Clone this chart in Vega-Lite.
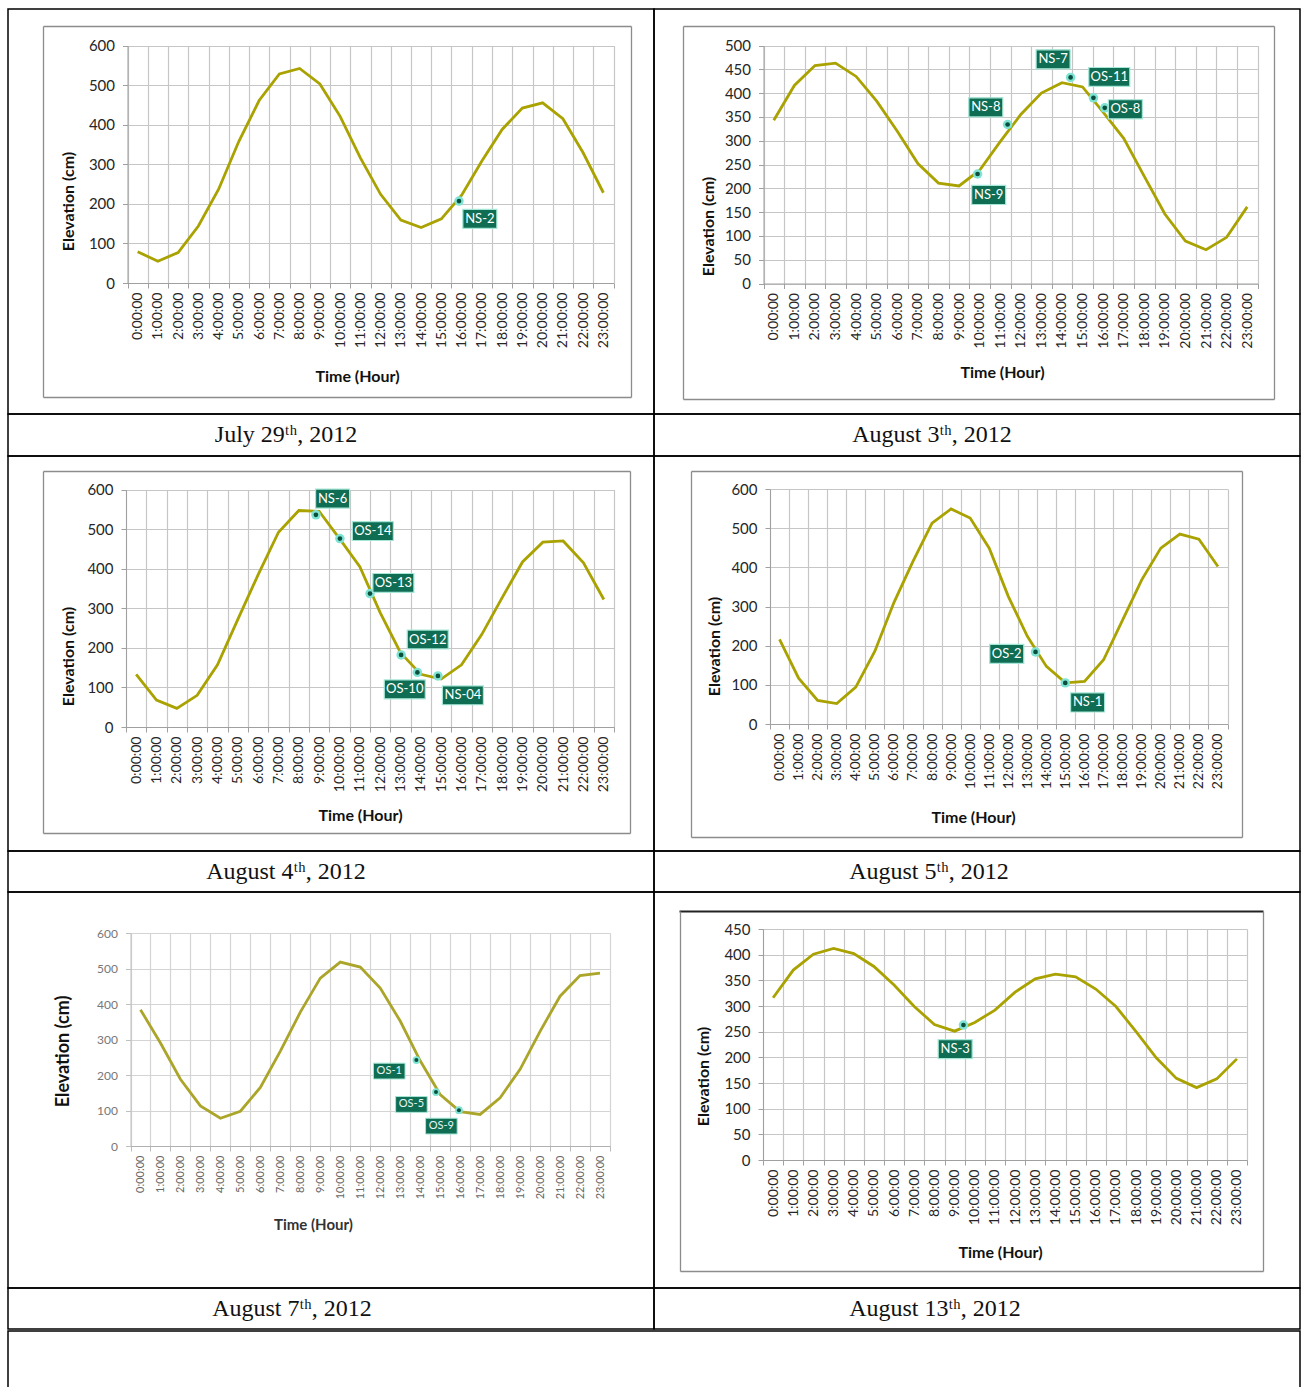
{
  "$schema": "https://vega.github.io/schema/vega-lite/v6.json",
  "padding": {"left": 7, "top": 8, "right": 0, "bottom": 0},
  "background": "white",
  "spacing": 0,
  "datasets": {
    "tide": [
      {"panel":"P1","hour":0,"elev":79},{"panel":"P1","hour":1,"elev":55},{"panel":"P1","hour":2,"elev":77},{"panel":"P1","hour":3,"elev":144},{"panel":"P1","hour":4,"elev":237},{"panel":"P1","hour":5,"elev":358},{"panel":"P1","hour":6,"elev":461},{"panel":"P1","hour":7,"elev":528},{"panel":"P1","hour":8,"elev":542},{"panel":"P1","hour":9,"elev":503},{"panel":"P1","hour":10,"elev":421},{"panel":"P1","hour":11,"elev":316},{"panel":"P1","hour":12,"elev":224},{"panel":"P1","hour":13,"elev":159},{"panel":"P1","hour":14,"elev":140},{"panel":"P1","hour":15,"elev":162},{"panel":"P1","hour":16,"elev":222},{"panel":"P1","hour":17,"elev":308},{"panel":"P1","hour":18,"elev":388},{"panel":"P1","hour":19,"elev":442},{"panel":"P1","hour":20,"elev":455},{"panel":"P1","hour":21,"elev":415},{"panel":"P1","hour":22,"elev":329},{"panel":"P1","hour":23,"elev":228},
      {"panel":"P2","hour":0,"elev":343},{"panel":"P2","hour":1,"elev":416},{"panel":"P2","hour":2,"elev":458},{"panel":"P2","hour":3,"elev":463},{"panel":"P2","hour":4,"elev":435},{"panel":"P2","hour":5,"elev":383},{"panel":"P2","hour":6,"elev":320},{"panel":"P2","hour":7,"elev":252},{"panel":"P2","hour":8,"elev":211},{"panel":"P2","hour":9,"elev":205},{"panel":"P2","hour":10,"elev":238},{"panel":"P2","hour":11,"elev":298},{"panel":"P2","hour":12,"elev":355},{"panel":"P2","hour":13,"elev":400},{"panel":"P2","hour":14,"elev":422},{"panel":"P2","hour":15,"elev":413},{"panel":"P2","hour":16,"elev":360},{"panel":"P2","hour":17,"elev":305},{"panel":"P2","hour":18,"elev":225},{"panel":"P2","hour":19,"elev":146},{"panel":"P2","hour":20,"elev":89},{"panel":"P2","hour":21,"elev":71},{"panel":"P2","hour":22,"elev":97},{"panel":"P2","hour":23,"elev":161},
      {"panel":"P3","hour":0,"elev":133},{"panel":"P3","hour":1,"elev":68},{"panel":"P3","hour":2,"elev":47},{"panel":"P3","hour":3,"elev":80},{"panel":"P3","hour":4,"elev":157},{"panel":"P3","hour":5,"elev":272},{"panel":"P3","hour":6,"elev":385},{"panel":"P3","hour":7,"elev":492},{"panel":"P3","hour":8,"elev":547},{"panel":"P3","hour":9,"elev":545},{"panel":"P3","hour":10,"elev":476},{"panel":"P3","hour":11,"elev":405},{"panel":"P3","hour":12,"elev":289},{"panel":"P3","hour":13,"elev":188},{"panel":"P3","hour":14,"elev":133},{"panel":"P3","hour":15,"elev":121},{"panel":"P3","hour":16,"elev":157},{"panel":"P3","hour":17,"elev":234},{"panel":"P3","hour":18,"elev":327},{"panel":"P3","hour":19,"elev":417},{"panel":"P3","hour":20,"elev":467},{"panel":"P3","hour":21,"elev":470},{"panel":"P3","hour":22,"elev":415},{"panel":"P3","hour":23,"elev":322},
      {"panel":"P4","hour":0,"elev":216},{"panel":"P4","hour":1,"elev":117},{"panel":"P4","hour":2,"elev":60},{"panel":"P4","hour":3,"elev":52},{"panel":"P4","hour":4,"elev":94},{"panel":"P4","hour":5,"elev":186},{"panel":"P4","hour":6,"elev":310},{"panel":"P4","hour":7,"elev":415},{"panel":"P4","hour":8,"elev":513},{"panel":"P4","hour":9,"elev":549},{"panel":"P4","hour":10,"elev":526},{"panel":"P4","hour":11,"elev":449},{"panel":"P4","hour":12,"elev":326},{"panel":"P4","hour":13,"elev":224},{"panel":"P4","hour":14,"elev":147},{"panel":"P4","hour":15,"elev":105},{"panel":"P4","hour":16,"elev":109},{"panel":"P4","hour":17,"elev":164},{"panel":"P4","hour":18,"elev":266},{"panel":"P4","hour":19,"elev":368},{"panel":"P4","hour":20,"elev":449},{"panel":"P4","hour":21,"elev":485},{"panel":"P4","hour":22,"elev":472},{"panel":"P4","hour":23,"elev":402},
      {"panel":"P5","hour":0,"elev":384},{"panel":"P5","hour":1,"elev":290},{"panel":"P5","hour":2,"elev":188},{"panel":"P5","hour":3,"elev":113},{"panel":"P5","hour":4,"elev":78},{"panel":"P5","hour":5,"elev":98},{"panel":"P5","hour":6,"elev":165},{"panel":"P5","hour":7,"elev":267},{"panel":"P5","hour":8,"elev":377},{"panel":"P5","hour":9,"elev":473},{"panel":"P5","hour":10,"elev":518},{"panel":"P5","hour":11,"elev":504},{"panel":"P5","hour":12,"elev":445},{"panel":"P5","hour":13,"elev":352},{"panel":"P5","hour":14,"elev":240},{"panel":"P5","hour":15,"elev":145},{"panel":"P5","hour":16,"elev":97},{"panel":"P5","hour":17,"elev":89},{"panel":"P5","hour":18,"elev":136},{"panel":"P5","hour":19,"elev":216},{"panel":"P5","hour":20,"elev":323},{"panel":"P5","hour":21,"elev":422},{"panel":"P5","hour":22,"elev":480},{"panel":"P5","hour":23,"elev":487},
      {"panel":"P6","hour":0,"elev":316},{"panel":"P6","hour":1,"elev":370},{"panel":"P6","hour":2,"elev":401},{"panel":"P6","hour":3,"elev":412},{"panel":"P6","hour":4,"elev":402},{"panel":"P6","hour":5,"elev":377},{"panel":"P6","hour":6,"elev":341},{"panel":"P6","hour":7,"elev":299},{"panel":"P6","hour":8,"elev":264},{"panel":"P6","hour":9,"elev":251},{"panel":"P6","hour":10,"elev":268},{"panel":"P6","hour":11,"elev":292},{"panel":"P6","hour":12,"elev":327},{"panel":"P6","hour":13,"elev":353},{"panel":"P6","hour":14,"elev":362},{"panel":"P6","hour":15,"elev":357},{"panel":"P6","hour":16,"elev":333},{"panel":"P6","hour":17,"elev":299},{"panel":"P6","hour":18,"elev":250},{"panel":"P6","hour":19,"elev":199},{"panel":"P6","hour":20,"elev":159},{"panel":"P6","hour":21,"elev":141},{"panel":"P6","hour":22,"elev":158},{"panel":"P6","hour":23,"elev":197}
    ],
    "marks": [
      {"panel":"P1","label":"NS-2","hour":15.87,"elev":207,"lhour":16.9,"lelev":162},
      {"panel":"P2","label":"NS-7","hour":14.42,"elev":433,"lhour":13.57,"lelev":471},
      {"panel":"P2","label":"OS-11","hour":15.53,"elev":390,"lhour":16.3,"lelev":434},
      {"panel":"P2","label":"OS-8","hour":16.08,"elev":369,"lhour":17.08,"lelev":366},
      {"panel":"P2","label":"NS-8","hour":11.36,"elev":334,"lhour":10.3,"lelev":370},
      {"panel":"P2","label":"NS-9","hour":9.9,"elev":230,"lhour":10.44,"lelev":186},
      {"panel":"P3","label":"NS-6","hour":8.84,"elev":536,"lhour":9.66,"lelev":577},
      {"panel":"P3","label":"OS-14","hour":10.02,"elev":476,"lhour":11.64,"lelev":495},
      {"panel":"P3","label":"OS-13","hour":11.5,"elev":337,"lhour":12.65,"lelev":364},
      {"panel":"P3","label":"OS-12","hour":13.03,"elev":182,"lhour":14.34,"lelev":221},
      {"panel":"P3","label":"OS-10","hour":13.83,"elev":138,"lhour":13.21,"lelev":95},
      {"panel":"P3","label":"NS-04","hour":14.84,"elev":129,"lhour":16.07,"lelev":80},
      {"panel":"P4","label":"OS-2","hour":13.43,"elev":184,"lhour":11.92,"lelev":179},
      {"panel":"P4","label":"NS-1","hour":14.99,"elev":105,"lhour":16.16,"lelev":55},
      {"panel":"P5","label":"OS-1","hour":13.81,"elev":242,"lhour":12.45,"lelev":211},
      {"panel":"P5","label":"OS-5","hour":14.79,"elev":152,"lhour":13.56,"lelev":117},
      {"panel":"P5","label":"OS-9","hour":15.94,"elev":101,"lhour":15.06,"lelev":56},
      {"panel":"P6","label":"NS-3","hour":9.44,"elev":263,"lhour":9.03,"lelev":216}
    ]
  },
  "vconcat": [
   {"columns": 2, "spacing": 0, "bounds": "flush",
    "concat": [
      {"width": 646, "height": 405, "view": {"stroke": "#000", "strokeWidth": 1.5},
       "resolve": {"scale": {"x": "independent", "y": "independent"}, "axis": {"x": "independent", "y": "independent"}},
       "layer": [
        {"data": {"name": "tide"}, "transform": [{"filter": "datum.panel === 'P1'"}],
         "mark": {"type": "point", "opacity": 0},
         "encoding": {
          "x": {"field": "hour", "type": "quantitative", "scale": {"domain": [0, 23], "range": [35, 623], "nice": false, "zero": false},
                "axis": {"orient": "top", "offset": -17, "title": null, "labels": false, "ticks": false, "grid": false, "domainColor": "#8c8c8c", "domainWidth": 1.3}},
          "y": {"field": "elev", "type": "quantitative", "scale": {"domain": [0, 600], "range": [388, 17], "nice": false, "zero": false},
                "axis": {"orient": "left", "offset": -35, "title": null, "labels": false, "ticks": false, "grid": false, "domainColor": "#8c8c8c", "domainWidth": 1.3}}}},
        {"data": {"name": "tide"}, "transform": [{"filter": "datum.panel === 'P1'"}],
         "mark": {"type": "point", "opacity": 0},
         "encoding": {
          "x": {"field": "hour", "type": "quantitative", "scale": {"domain": [0, 23], "range": [35, 623], "nice": false, "zero": false},
                "axis": {"orient": "bottom", "offset": -17, "title": null, "labels": false, "ticks": false, "grid": false, "domainColor": "#8c8c8c", "domainWidth": 1.3}},
          "y": {"field": "elev", "type": "quantitative", "scale": {"domain": [0, 600], "range": [388, 17], "nice": false, "zero": false},
                "axis": {"orient": "right", "offset": -23, "title": null, "labels": false, "ticks": false, "grid": false, "domainColor": "#8c8c8c", "domainWidth": 1.3}}}},
        {"data": {"name": "tide"}, "transform": [{"filter": "datum.panel === 'P1'"}],
         "mark": {"type": "point", "opacity": 0},
         "encoding": {
          "x": {"field": "hour", "type": "quantitative", "scale": {"domain": [-0.5, 23.5], "range": [119.5, 605.5], "nice": false, "zero": false},
                "axis": {"orient": "bottom", "offset": -131, "title": null, "values": [-0.5,0.5,1.5,2.5,3.5,4.5,5.5,6.5,7.5,8.5,9.5,10.5,11.5,12.5,13.5,14.5,15.5,16.5,17.5,18.5,19.5,20.5,21.5,22.5,23.5], "labels": false, "ticks": true, "tickSize": 5, "grid": false, "domain": false}},
          "y": {"field": "elev", "type": "quantitative", "scale": {"domain": [0, 600], "range": [274, 36.5], "nice": false, "zero": false}, "axis": null}}},
        {"data": {"name": "tide"}, "transform": [{"filter": "datum.panel === 'P1'"}],
         "mark": {"type": "line", "color": "#a9a200", "strokeWidth": 2.8},
         "encoding": {
          "x": {"field": "hour", "type": "quantitative", "scale": {"domain": [-0.5, 23.5], "range": [119.5, 605.5], "nice": false, "zero": false},
                "axis": {"orient": "top", "title": null, "values": [-0.5,0.5,1.5,2.5,3.5,4.5,5.5,6.5,7.5,8.5,9.5,10.5,11.5,12.5,13.5,14.5,15.5,16.5,17.5,18.5,19.5,20.5,21.5,22.5,23.5], "grid": true, "labels": false, "ticks": false, "domain": false}},
          "y": {"field": "elev", "type": "quantitative", "scale": {"domain": [0, 600], "range": [274, 36.5], "nice": false, "zero": false},
                "axis": {"orient": "left", "title": "Elevation (cm)", "values": [0,100,200,300,400,500,600], "grid": true, "offset": -119.5, "titleX": -59.5, "titleY": 192, "titleAngle": -90, "titleAlign": "center", "titleBaseline": "middle"}}
         }},
        {"data": {"name": "marks"}, "transform": [{"filter": "datum.panel === 'P1'"}],
         "encoding": {
          "x": {"field": "hour", "type": "quantitative", "scale": {"domain": [-0.5, 23.5], "range": [119.5, 605.5], "nice": false, "zero": false},
                "axis": {"orient": "bottom", "title": "Time (Hour)", "values": [0,1,2,3,4,5,6,7,8,9,10,11,12,13,14,15,16,17,18,19,20,21,22,23], "labelExpr": "datum.value + ':00:00'", "grid": false, "ticks": false, "tickSize": 0, "labelPadding": 9,
                         "offset": -131, "titleX": 349, "titleY": 93, "titleAngle": 0, "titleAlign": "center", "titleBaseline": "middle"}},
          "y": {"field": "elev", "type": "quantitative", "scale": {"domain": [0, 600], "range": [274, 36.5], "nice": false, "zero": false}, "axis": null}},
         "layer": [
          {"mark": {"type": "point", "filled": true, "color": "#7ee3d3", "size": 90, "opacity": 1}},
          {"mark": {"type": "point", "filled": true, "color": "#0b4f3c", "size": 22, "opacity": 1}},
          {"mark": {"type": "point", "filled": true, "fill": "#0f6d54", "stroke": "#a6e6d6", "strokeWidth": 1.2, "opacity": 1},
           "encoding": {"x": {"field": "lhour", "type": "quantitative"}, "y": {"field": "lelev", "type": "quantitative"},
            "shape": {"condition": {"test": "length(datum.label) > 4", "value": "M-1,-0.46H1V0.46H-1Z"}, "value": "M-1,-0.56H1V0.56H-1Z"},
            "size": {"condition": {"test": "length(datum.label) > 4", "value": 1681}, "value": 1156}}},
          {"mark": {"type": "text", "color": "white", "font": "Lato", "fontSize": 13},
           "encoding": {"x": {"field": "lhour", "type": "quantitative"}, "y": {"field": "lelev", "type": "quantitative"}, "text": {"field": "label"}}}
         ]}
       ]},
      {"width": 646, "height": 405, "view": {"stroke": "#000", "strokeWidth": 1.5},
       "resolve": {"scale": {"x": "independent", "y": "independent"}, "axis": {"x": "independent", "y": "independent"}},
       "layer": [
        {"data": {"name": "tide"}, "transform": [{"filter": "datum.panel === 'P2'"}],
         "mark": {"type": "point", "opacity": 0},
         "encoding": {
          "x": {"field": "hour", "type": "quantitative", "scale": {"domain": [0, 23], "range": [29, 620], "nice": false, "zero": false},
                "axis": {"orient": "top", "offset": -17, "title": null, "labels": false, "ticks": false, "grid": false, "domainColor": "#8c8c8c", "domainWidth": 1.3}},
          "y": {"field": "elev", "type": "quantitative", "scale": {"domain": [0, 500], "range": [390, 17], "nice": false, "zero": false},
                "axis": {"orient": "left", "offset": -29, "title": null, "labels": false, "ticks": false, "grid": false, "domainColor": "#8c8c8c", "domainWidth": 1.3}}}},
        {"data": {"name": "tide"}, "transform": [{"filter": "datum.panel === 'P2'"}],
         "mark": {"type": "point", "opacity": 0},
         "encoding": {
          "x": {"field": "hour", "type": "quantitative", "scale": {"domain": [0, 23], "range": [29, 620], "nice": false, "zero": false},
                "axis": {"orient": "bottom", "offset": -15, "title": null, "labels": false, "ticks": false, "grid": false, "domainColor": "#8c8c8c", "domainWidth": 1.3}},
          "y": {"field": "elev", "type": "quantitative", "scale": {"domain": [0, 500], "range": [390, 17], "nice": false, "zero": false},
                "axis": {"orient": "right", "offset": -26, "title": null, "labels": false, "ticks": false, "grid": false, "domainColor": "#8c8c8c", "domainWidth": 1.3}}}},
        {"data": {"name": "tide"}, "transform": [{"filter": "datum.panel === 'P2'"}],
         "mark": {"type": "point", "opacity": 0},
         "encoding": {
          "x": {"field": "hour", "type": "quantitative", "scale": {"domain": [-0.5, 23.5], "range": [109.5, 603.5], "nice": false, "zero": false},
                "axis": {"orient": "bottom", "offset": -130.5, "title": null, "values": [-0.5,0.5,1.5,2.5,3.5,4.5,5.5,6.5,7.5,8.5,9.5,10.5,11.5,12.5,13.5,14.5,15.5,16.5,17.5,18.5,19.5,20.5,21.5,22.5,23.5], "labels": false, "ticks": true, "tickSize": 5, "grid": false, "domain": false}},
          "y": {"field": "elev", "type": "quantitative", "scale": {"domain": [0, 500], "range": [274.5, 36.5], "nice": false, "zero": false}, "axis": null}}},
        {"data": {"name": "tide"}, "transform": [{"filter": "datum.panel === 'P2'"}],
         "mark": {"type": "line", "color": "#a9a200", "strokeWidth": 2.8},
         "encoding": {
          "x": {"field": "hour", "type": "quantitative", "scale": {"domain": [-0.5, 23.5], "range": [109.5, 603.5], "nice": false, "zero": false},
                "axis": {"orient": "top", "title": null, "values": [-0.5,0.5,1.5,2.5,3.5,4.5,5.5,6.5,7.5,8.5,9.5,10.5,11.5,12.5,13.5,14.5,15.5,16.5,17.5,18.5,19.5,20.5,21.5,22.5,23.5], "grid": true, "labels": false, "ticks": false, "domain": false}},
          "y": {"field": "elev", "type": "quantitative", "scale": {"domain": [0, 500], "range": [274.5, 36.5], "nice": false, "zero": false},
                "axis": {"orient": "left", "title": "Elevation (cm)", "values": [0,50,100,150,200,250,300,350,400,450,500], "grid": true, "offset": -109.5, "titleX": -55.5, "titleY": 217, "titleAngle": -90, "titleAlign": "center", "titleBaseline": "middle"}}
         }},
        {"data": {"name": "marks"}, "transform": [{"filter": "datum.panel === 'P2'"}],
         "encoding": {
          "x": {"field": "hour", "type": "quantitative", "scale": {"domain": [-0.5, 23.5], "range": [109.5, 603.5], "nice": false, "zero": false},
                "axis": {"orient": "bottom", "title": "Time (Hour)", "values": [0,1,2,3,4,5,6,7,8,9,10,11,12,13,14,15,16,17,18,19,20,21,22,23], "labelExpr": "datum.value + ':00:00'", "grid": false, "ticks": false, "tickSize": 0, "labelPadding": 9,
                         "offset": -130.5, "titleX": 348, "titleY": 88.5, "titleAngle": 0, "titleAlign": "center", "titleBaseline": "middle"}},
          "y": {"field": "elev", "type": "quantitative", "scale": {"domain": [0, 500], "range": [274.5, 36.5], "nice": false, "zero": false}, "axis": null}},
         "layer": [
          {"mark": {"type": "point", "filled": true, "color": "#7ee3d3", "size": 90, "opacity": 1}},
          {"mark": {"type": "point", "filled": true, "color": "#0b4f3c", "size": 22, "opacity": 1}},
          {"mark": {"type": "point", "filled": true, "fill": "#0f6d54", "stroke": "#a6e6d6", "strokeWidth": 1.2, "opacity": 1},
           "encoding": {"x": {"field": "lhour", "type": "quantitative"}, "y": {"field": "lelev", "type": "quantitative"},
            "shape": {"condition": {"test": "length(datum.label) > 4", "value": "M-1,-0.46H1V0.46H-1Z"}, "value": "M-1,-0.56H1V0.56H-1Z"},
            "size": {"condition": {"test": "length(datum.label) > 4", "value": 1681}, "value": 1156}}},
          {"mark": {"type": "text", "color": "white", "font": "Lato", "fontSize": 13},
           "encoding": {"x": {"field": "lhour", "type": "quantitative"}, "y": {"field": "lelev", "type": "quantitative"}, "text": {"field": "label"}}}
         ]}
       ]},
      {"width": 646, "height": 42, "view": {"stroke": "#000", "strokeWidth": 1.5}, "data": {"values": [{"caption": "July 29ᵗʰ, 2012"}]},
       "mark": {"type": "text", "font": "Liberation Serif", "fontSize": 24, "color": "#111", "dx": -45}, "encoding": {"text": {"field": "caption"}}},
      {"width": 646, "height": 42, "view": {"stroke": "#000", "strokeWidth": 1.5}, "data": {"values": [{"caption": "August 3ᵗʰ, 2012"}]},
       "mark": {"type": "text", "font": "Liberation Serif", "fontSize": 24, "color": "#111", "dx": -45}, "encoding": {"text": {"field": "caption"}}},
      {"width": 646, "height": 395, "view": {"stroke": "#000", "strokeWidth": 1.5},
       "resolve": {"scale": {"x": "independent", "y": "independent"}, "axis": {"x": "independent", "y": "independent"}},
       "layer": [
        {"data": {"name": "tide"}, "transform": [{"filter": "datum.panel === 'P3'"}],
         "mark": {"type": "point", "opacity": 0},
         "encoding": {
          "x": {"field": "hour", "type": "quantitative", "scale": {"domain": [0, 23], "range": [35, 622], "nice": false, "zero": false},
                "axis": {"orient": "top", "offset": -15, "title": null, "labels": false, "ticks": false, "grid": false, "domainColor": "#8c8c8c", "domainWidth": 1.3}},
          "y": {"field": "elev", "type": "quantitative", "scale": {"domain": [0, 600], "range": [377, 15], "nice": false, "zero": false},
                "axis": {"orient": "left", "offset": -35, "title": null, "labels": false, "ticks": false, "grid": false, "domainColor": "#8c8c8c", "domainWidth": 1.3}}}},
        {"data": {"name": "tide"}, "transform": [{"filter": "datum.panel === 'P3'"}],
         "mark": {"type": "point", "opacity": 0},
         "encoding": {
          "x": {"field": "hour", "type": "quantitative", "scale": {"domain": [0, 23], "range": [35, 622], "nice": false, "zero": false},
                "axis": {"orient": "bottom", "offset": -18, "title": null, "labels": false, "ticks": false, "grid": false, "domainColor": "#8c8c8c", "domainWidth": 1.3}},
          "y": {"field": "elev", "type": "quantitative", "scale": {"domain": [0, 600], "range": [377, 15], "nice": false, "zero": false},
                "axis": {"orient": "right", "offset": -24, "title": null, "labels": false, "ticks": false, "grid": false, "domainColor": "#8c8c8c", "domainWidth": 1.3}}}},
        {"data": {"name": "tide"}, "transform": [{"filter": "datum.panel === 'P3'"}],
         "mark": {"type": "point", "opacity": 0},
         "encoding": {
          "x": {"field": "hour", "type": "quantitative", "scale": {"domain": [-0.5, 23.5], "range": [118, 606], "nice": false, "zero": false},
                "axis": {"orient": "bottom", "offset": -124, "title": null, "values": [-0.5,0.5,1.5,2.5,3.5,4.5,5.5,6.5,7.5,8.5,9.5,10.5,11.5,12.5,13.5,14.5,15.5,16.5,17.5,18.5,19.5,20.5,21.5,22.5,23.5], "labels": false, "ticks": true, "tickSize": 5, "grid": false, "domain": false}},
          "y": {"field": "elev", "type": "quantitative", "scale": {"domain": [0, 600], "range": [271, 33.5], "nice": false, "zero": false}, "axis": null}}},
        {"data": {"name": "tide"}, "transform": [{"filter": "datum.panel === 'P3'"}],
         "mark": {"type": "line", "color": "#a9a200", "strokeWidth": 2.8},
         "encoding": {
          "x": {"field": "hour", "type": "quantitative", "scale": {"domain": [-0.5, 23.5], "range": [118, 606], "nice": false, "zero": false},
                "axis": {"orient": "top", "title": null, "values": [-0.5,0.5,1.5,2.5,3.5,4.5,5.5,6.5,7.5,8.5,9.5,10.5,11.5,12.5,13.5,14.5,15.5,16.5,17.5,18.5,19.5,20.5,21.5,22.5,23.5], "grid": true, "labels": false, "ticks": false, "domain": false}},
          "y": {"field": "elev", "type": "quantitative", "scale": {"domain": [0, 600], "range": [271, 33.5], "nice": false, "zero": false},
                "axis": {"orient": "left", "title": "Elevation (cm)", "values": [0,100,200,300,400,500,600], "grid": true, "offset": -118, "titleX": -58, "titleY": 200, "titleAngle": -90, "titleAlign": "center", "titleBaseline": "middle"}}
         }},
        {"data": {"name": "marks"}, "transform": [{"filter": "datum.panel === 'P3'"}],
         "encoding": {
          "x": {"field": "hour", "type": "quantitative", "scale": {"domain": [-0.5, 23.5], "range": [118, 606], "nice": false, "zero": false},
                "axis": {"orient": "bottom", "title": "Time (Hour)", "values": [0,1,2,3,4,5,6,7,8,9,10,11,12,13,14,15,16,17,18,19,20,21,22,23], "labelExpr": "datum.value + ':00:00'", "grid": false, "ticks": false, "tickSize": 0, "labelPadding": 9,
                         "offset": -124, "titleX": 352, "titleY": 88, "titleAngle": 0, "titleAlign": "center", "titleBaseline": "middle"}},
          "y": {"field": "elev", "type": "quantitative", "scale": {"domain": [0, 600], "range": [271, 33.5], "nice": false, "zero": false}, "axis": null}},
         "layer": [
          {"mark": {"type": "point", "filled": true, "color": "#7ee3d3", "size": 90, "opacity": 1}},
          {"mark": {"type": "point", "filled": true, "color": "#0b4f3c", "size": 22, "opacity": 1}},
          {"mark": {"type": "point", "filled": true, "fill": "#0f6d54", "stroke": "#a6e6d6", "strokeWidth": 1.2, "opacity": 1},
           "encoding": {"x": {"field": "lhour", "type": "quantitative"}, "y": {"field": "lelev", "type": "quantitative"},
            "shape": {"condition": {"test": "length(datum.label) > 4", "value": "M-1,-0.46H1V0.46H-1Z"}, "value": "M-1,-0.56H1V0.56H-1Z"},
            "size": {"condition": {"test": "length(datum.label) > 4", "value": 1681}, "value": 1156}}},
          {"mark": {"type": "text", "color": "white", "font": "Lato", "fontSize": 13},
           "encoding": {"x": {"field": "lhour", "type": "quantitative"}, "y": {"field": "lelev", "type": "quantitative"}, "text": {"field": "label"}}}
         ]}
       ]},
      {"width": 646, "height": 395, "view": {"stroke": "#000", "strokeWidth": 1.5},
       "resolve": {"scale": {"x": "independent", "y": "independent"}, "axis": {"x": "independent", "y": "independent"}},
       "layer": [
        {"data": {"name": "tide"}, "transform": [{"filter": "datum.panel === 'P4'"}],
         "mark": {"type": "point", "opacity": 0},
         "encoding": {
          "x": {"field": "hour", "type": "quantitative", "scale": {"domain": [0, 23], "range": [37, 588], "nice": false, "zero": false},
                "axis": {"orient": "top", "offset": -15, "title": null, "labels": false, "ticks": false, "grid": false, "domainColor": "#8c8c8c", "domainWidth": 1.3}},
          "y": {"field": "elev", "type": "quantitative", "scale": {"domain": [0, 600], "range": [381, 15], "nice": false, "zero": false},
                "axis": {"orient": "left", "offset": -37, "title": null, "labels": false, "ticks": false, "grid": false, "domainColor": "#8c8c8c", "domainWidth": 1.3}}}},
        {"data": {"name": "tide"}, "transform": [{"filter": "datum.panel === 'P4'"}],
         "mark": {"type": "point", "opacity": 0},
         "encoding": {
          "x": {"field": "hour", "type": "quantitative", "scale": {"domain": [0, 23], "range": [37, 588], "nice": false, "zero": false},
                "axis": {"orient": "bottom", "offset": -14, "title": null, "labels": false, "ticks": false, "grid": false, "domainColor": "#8c8c8c", "domainWidth": 1.3}},
          "y": {"field": "elev", "type": "quantitative", "scale": {"domain": [0, 600], "range": [381, 15], "nice": false, "zero": false},
                "axis": {"orient": "right", "offset": -58, "title": null, "labels": false, "ticks": false, "grid": false, "domainColor": "#8c8c8c", "domainWidth": 1.3}}}},
        {"data": {"name": "tide"}, "transform": [{"filter": "datum.panel === 'P4'"}],
         "mark": {"type": "point", "opacity": 0},
         "encoding": {
          "x": {"field": "hour", "type": "quantitative", "scale": {"domain": [-0.5, 23.5], "range": [116, 573.5], "nice": false, "zero": false},
                "axis": {"orient": "bottom", "offset": -127, "title": null, "values": [-0.5,0.5,1.5,2.5,3.5,4.5,5.5,6.5,7.5,8.5,9.5,10.5,11.5,12.5,13.5,14.5,15.5,16.5,17.5,18.5,19.5,20.5,21.5,22.5,23.5], "labels": false, "ticks": true, "tickSize": 5, "grid": false, "domain": false}},
          "y": {"field": "elev", "type": "quantitative", "scale": {"domain": [0, 600], "range": [268, 33], "nice": false, "zero": false}, "axis": null}}},
        {"data": {"name": "tide"}, "transform": [{"filter": "datum.panel === 'P4'"}],
         "mark": {"type": "line", "color": "#a9a200", "strokeWidth": 2.8},
         "encoding": {
          "x": {"field": "hour", "type": "quantitative", "scale": {"domain": [-0.5, 23.5], "range": [116, 573.5], "nice": false, "zero": false},
                "axis": {"orient": "top", "title": null, "values": [-0.5,0.5,1.5,2.5,3.5,4.5,5.5,6.5,7.5,8.5,9.5,10.5,11.5,12.5,13.5,14.5,15.5,16.5,17.5,18.5,19.5,20.5,21.5,22.5,23.5], "grid": true, "labels": false, "ticks": false, "domain": false}},
          "y": {"field": "elev", "type": "quantitative", "scale": {"domain": [0, 600], "range": [268, 33], "nice": false, "zero": false},
                "axis": {"orient": "left", "title": "Elevation (cm)", "values": [0,100,200,300,400,500,600], "grid": true, "offset": -116, "titleX": -56, "titleY": 190, "titleAngle": -90, "titleAlign": "center", "titleBaseline": "middle"}}
         }},
        {"data": {"name": "marks"}, "transform": [{"filter": "datum.panel === 'P4'"}],
         "encoding": {
          "x": {"field": "hour", "type": "quantitative", "scale": {"domain": [-0.5, 23.5], "range": [116, 573.5], "nice": false, "zero": false},
                "axis": {"orient": "bottom", "title": "Time (Hour)", "values": [0,1,2,3,4,5,6,7,8,9,10,11,12,13,14,15,16,17,18,19,20,21,22,23], "labelExpr": "datum.value + ':00:00'", "grid": false, "ticks": false, "tickSize": 0, "labelPadding": 9,
                         "offset": -127, "titleX": 319, "titleY": 93, "titleAngle": 0, "titleAlign": "center", "titleBaseline": "middle"}},
          "y": {"field": "elev", "type": "quantitative", "scale": {"domain": [0, 600], "range": [268, 33], "nice": false, "zero": false}, "axis": null}},
         "layer": [
          {"mark": {"type": "point", "filled": true, "color": "#7ee3d3", "size": 90, "opacity": 1}},
          {"mark": {"type": "point", "filled": true, "color": "#0b4f3c", "size": 22, "opacity": 1}},
          {"mark": {"type": "point", "filled": true, "fill": "#0f6d54", "stroke": "#a6e6d6", "strokeWidth": 1.2, "opacity": 1},
           "encoding": {"x": {"field": "lhour", "type": "quantitative"}, "y": {"field": "lelev", "type": "quantitative"},
            "shape": {"condition": {"test": "length(datum.label) > 4", "value": "M-1,-0.46H1V0.46H-1Z"}, "value": "M-1,-0.56H1V0.56H-1Z"},
            "size": {"condition": {"test": "length(datum.label) > 4", "value": 1681}, "value": 1156}}},
          {"mark": {"type": "text", "color": "white", "font": "Lato", "fontSize": 13},
           "encoding": {"x": {"field": "lhour", "type": "quantitative"}, "y": {"field": "lelev", "type": "quantitative"}, "text": {"field": "label"}}}
         ]}
       ]},
      {"width": 646, "height": 41, "view": {"stroke": "#000", "strokeWidth": 1.5}, "data": {"values": [{"caption": "August 4ᵗʰ, 2012"}]},
       "mark": {"type": "text", "font": "Liberation Serif", "fontSize": 24, "color": "#111", "dx": -45}, "encoding": {"text": {"field": "caption"}}},
      {"width": 646, "height": 41, "view": {"stroke": "#000", "strokeWidth": 1.5}, "data": {"values": [{"caption": "August 5ᵗʰ, 2012"}]},
       "mark": {"type": "text", "font": "Liberation Serif", "fontSize": 24, "color": "#111", "dx": -48}, "encoding": {"text": {"field": "caption"}}},
      {"width": 646, "height": 396, "view": {"stroke": "#000", "strokeWidth": 1.5},
       "resolve": {"scale": {"x": "independent"}, "axis": {"x": "independent"}},
       "layer": [
        {"data": {"name": "tide"}, "transform": [{"filter": "datum.panel === 'P5'"}],
         "mark": {"type": "point", "opacity": 0},
         "encoding": {
          "x": {"field": "hour", "type": "quantitative", "scale": {"domain": [-0.5, 23.5], "range": [122.5, 602], "nice": false, "zero": false},
                "axis": {"orient": "bottom", "offset": -142, "title": null, "values": [-0.5,0.5,1.5,2.5,3.5,4.5,5.5,6.5,7.5,8.5,9.5,10.5,11.5,12.5,13.5,14.5,15.5,16.5,17.5,18.5,19.5,20.5,21.5,22.5,23.5], "labels": false, "ticks": true, "tickSize": 5, "tickColor": "#bbb", "grid": false, "domain": false}},
          "y": {"field": "elev", "type": "quantitative"}}},
        {"data": {"name": "tide"}, "transform": [{"filter": "datum.panel === 'P5'"}],
         "mark": {"type": "line", "color": "#aba52a", "strokeWidth": 2.8},
         "encoding": {
          "x": {"field": "hour", "type": "quantitative", "scale": {"domain": [-0.5, 23.5], "range": [122.5, 602], "nice": false, "zero": false},
                "axis": {"orient": "top", "title": null, "values": [-0.5,0.5,1.5,2.5,3.5,4.5,5.5,6.5,7.5,8.5,9.5,10.5,11.5,12.5,13.5,14.5,15.5,16.5,17.5,18.5,19.5,20.5,21.5,22.5,23.5], "grid": true, "gridColor": "#d4d4d4", "labels": false, "ticks": false, "domain": false}},
          "y": {"field": "elev", "type": "quantitative", "scale": {"domain": [0, 600], "range": [254, 41], "nice": false, "zero": false},
                "axis": {"title": "Elevation (cm)", "values": [0,100,200,300,400,500,600], "grid": true, "gridColor": "#d4d4d4", "labelColor": "#777", "labelFontSize": 12, "domainColor": "#c0c0c0", "tickColor": "#c0c0c0",
                         "offset": -122.5, "titleX": -67.5, "titleY": 159, "titleAngle": -90, "titleAlign": "center", "titleBaseline": "middle", "titleFontSize": 18}}
         }},
        {"data": {"name": "marks"}, "transform": [{"filter": "datum.panel === 'P5'"}],
         "encoding": {
          "x": {"field": "hour", "type": "quantitative", "scale": {"domain": [-0.5, 23.5], "range": [122.5, 602], "nice": false, "zero": false},
                "axis": {"orient": "bottom", "title": "Time (Hour)", "values": [0,1,2,3,4,5,6,7,8,9,10,11,12,13,14,15,16,17,18,19,20,21,22,23], "labelExpr": "datum.value + ':00:00'", "grid": false, "ticks": false, "tickSize": 0, "labelPadding": 9,
                         "labelColor": "#666", "labelFontSize": 11, "domainColor": "#b0b0b0",
                         "offset": -142, "titleX": 305, "titleY": 78, "titleAngle": 0, "titleAlign": "center", "titleBaseline": "middle", "titleColor": "#333", "titleFontSize": 15}},
          "y": {"field": "elev", "type": "quantitative"}},
         "layer": [
          {"mark": {"type": "point", "filled": true, "color": "#7ee3d3", "size": 60, "opacity": 1}},
          {"mark": {"type": "point", "filled": true, "color": "#0b4f3c", "size": 16, "opacity": 1}},
          {"mark": {"type": "point", "filled": true, "fill": "#0f6d54", "stroke": "#a6e6d6", "strokeWidth": 1, "opacity": 1, "shape": "M-1,-0.5H1V0.5H-1Z", "size": 1000},
           "encoding": {"x": {"field": "lhour", "type": "quantitative"}, "y": {"field": "lelev", "type": "quantitative"}}},
          {"mark": {"type": "text", "color": "#e8f5f0", "font": "Lato", "fontSize": 11},
           "encoding": {"x": {"field": "lhour", "type": "quantitative"}, "y": {"field": "lelev", "type": "quantitative"}, "text": {"field": "label"}}}
         ]}
       ]},
      {"width": 646, "height": 396, "view": {"stroke": "#000", "strokeWidth": 1.5},
       "resolve": {"scale": {"x": "independent", "y": "independent"}, "axis": {"x": "independent", "y": "independent"}},
       "layer": [
        {"data": {"name": "tide"}, "transform": [{"filter": "datum.panel === 'P6'"}],
         "mark": {"type": "point", "opacity": 0},
         "encoding": {
          "x": {"field": "hour", "type": "quantitative", "scale": {"domain": [0, 23], "range": [25, 609], "nice": false, "zero": false},
                "axis": {"orient": "top", "offset": -19, "title": null, "labels": false, "ticks": false, "grid": false, "domainColor": "#222", "domainWidth": 2}},
          "y": {"field": "elev", "type": "quantitative", "scale": {"domain": [0, 450], "range": [379, 19], "nice": false, "zero": false},
                "axis": {"orient": "left", "offset": -26, "title": null, "labels": false, "ticks": false, "grid": false, "domainColor": "#8c8c8c", "domainWidth": 1.3}}}},
        {"data": {"name": "tide"}, "transform": [{"filter": "datum.panel === 'P6'"}],
         "mark": {"type": "point", "opacity": 0},
         "encoding": {
          "x": {"field": "hour", "type": "quantitative", "scale": {"domain": [0, 23], "range": [26, 609], "nice": false, "zero": false},
                "axis": {"orient": "bottom", "offset": -17, "title": null, "labels": false, "ticks": false, "grid": false, "domainColor": "#8c8c8c", "domainWidth": 1.3}},
          "y": {"field": "elev", "type": "quantitative", "scale": {"domain": [0, 450], "range": [379, 19], "nice": false, "zero": false},
                "axis": {"orient": "right", "offset": -37, "title": null, "labels": false, "ticks": false, "grid": false, "domainColor": "#8c8c8c", "domainWidth": 1.3}}}},
        {"data": {"name": "tide"}, "transform": [{"filter": "datum.panel === 'P6'"}],
         "mark": {"type": "point", "opacity": 0},
         "encoding": {
          "x": {"field": "hour", "type": "quantitative", "scale": {"domain": [-0.5, 23.5], "range": [109, 593], "nice": false, "zero": false},
                "axis": {"orient": "bottom", "offset": -128, "title": null, "values": [-0.5,0.5,1.5,2.5,3.5,4.5,5.5,6.5,7.5,8.5,9.5,10.5,11.5,12.5,13.5,14.5,15.5,16.5,17.5,18.5,19.5,20.5,21.5,22.5,23.5], "labels": false, "ticks": true, "tickSize": 5, "grid": false, "domain": false}},
          "y": {"field": "elev", "type": "quantitative", "scale": {"domain": [0, 450], "range": [268, 37], "nice": false, "zero": false}, "axis": null}}},
        {"data": {"name": "tide"}, "transform": [{"filter": "datum.panel === 'P6'"}],
         "mark": {"type": "line", "color": "#a9a200", "strokeWidth": 2.8},
         "encoding": {
          "x": {"field": "hour", "type": "quantitative", "scale": {"domain": [-0.5, 23.5], "range": [109, 593], "nice": false, "zero": false},
                "axis": {"orient": "top", "title": null, "values": [-0.5,0.5,1.5,2.5,3.5,4.5,5.5,6.5,7.5,8.5,9.5,10.5,11.5,12.5,13.5,14.5,15.5,16.5,17.5,18.5,19.5,20.5,21.5,22.5,23.5], "grid": true, "labels": false, "ticks": false, "domain": false}},
          "y": {"field": "elev", "type": "quantitative", "scale": {"domain": [0, 450], "range": [268, 37], "nice": false, "zero": false},
                "axis": {"orient": "left", "title": "Elevation (cm)", "values": [0,50,100,150,200,250,300,350,400,450], "grid": true, "offset": -109, "titleX": -60, "titleY": 184, "titleAngle": -90, "titleAlign": "center", "titleBaseline": "middle"}}
         }},
        {"data": {"name": "marks"}, "transform": [{"filter": "datum.panel === 'P6'"}],
         "encoding": {
          "x": {"field": "hour", "type": "quantitative", "scale": {"domain": [-0.5, 23.5], "range": [109, 593], "nice": false, "zero": false},
                "axis": {"orient": "bottom", "title": "Time (Hour)", "values": [0,1,2,3,4,5,6,7,8,9,10,11,12,13,14,15,16,17,18,19,20,21,22,23], "labelExpr": "datum.value + ':00:00'", "grid": false, "ticks": false, "tickSize": 0, "labelPadding": 9,
                         "offset": -128, "titleX": 346, "titleY": 92, "titleAngle": 0, "titleAlign": "center", "titleBaseline": "middle"}},
          "y": {"field": "elev", "type": "quantitative", "scale": {"domain": [0, 450], "range": [268, 37], "nice": false, "zero": false}, "axis": null}},
         "layer": [
          {"mark": {"type": "point", "filled": true, "color": "#7ee3d3", "size": 90, "opacity": 1}},
          {"mark": {"type": "point", "filled": true, "color": "#0b4f3c", "size": 22, "opacity": 1}},
          {"mark": {"type": "point", "filled": true, "fill": "#0f6d54", "stroke": "#a6e6d6", "strokeWidth": 1.2, "opacity": 1},
           "encoding": {"x": {"field": "lhour", "type": "quantitative"}, "y": {"field": "lelev", "type": "quantitative"},
            "shape": {"condition": {"test": "length(datum.label) > 4", "value": "M-1,-0.46H1V0.46H-1Z"}, "value": "M-1,-0.56H1V0.56H-1Z"},
            "size": {"condition": {"test": "length(datum.label) > 4", "value": 1681}, "value": 1156}}},
          {"mark": {"type": "text", "color": "white", "font": "Lato", "fontSize": 13},
           "encoding": {"x": {"field": "lhour", "type": "quantitative"}, "y": {"field": "lelev", "type": "quantitative"}, "text": {"field": "label"}}}
         ]}
       ]},
      {"width": 646, "height": 41, "view": {"stroke": "#000", "strokeWidth": 1.5}, "data": {"values": [{"caption": "August 7ᵗʰ, 2012"}]},
       "mark": {"type": "text", "font": "Liberation Serif", "fontSize": 24, "color": "#111", "dx": -39}, "encoding": {"text": {"field": "caption"}}},
      {"width": 646, "height": 41, "view": {"stroke": "#000", "strokeWidth": 1.5}, "data": {"values": [{"caption": "August 13ᵗʰ, 2012"}]},
       "mark": {"type": "text", "font": "Liberation Serif", "fontSize": 24, "color": "#111", "dx": -42}, "encoding": {"text": {"field": "caption"}}}
    ]},
    {"width": 1292, "height": 80, "view": {"stroke": "#000", "strokeWidth": 1.5}, "data": {"values": [{"caption": ""}]},
     "mark": {"type": "text"}, "encoding": {"text": {"field": "caption"}}}
  ],
  "config": {
    "concat": {"spacing": 0},
    "axis": {"labelFont": "Lato", "titleFont": "Lato", "labelColor": "#262626", "titleColor": "#111", "titleFontWeight": "bold", "titleFontSize": 16,
             "gridColor": "#c6c6c6", "gridWidth": 1.2, "domainColor": "#a0a0a0", "tickColor": "#a0a0a0", "labelFlush": false, "labelOverlap": false, "labelBound": false},
    "axisX": {"labelAngle": -90, "labelFontSize": 14},
    "axisY": {"labelFontSize": 15, "tickSize": 5, "labelPadding": 8}
  }
}
